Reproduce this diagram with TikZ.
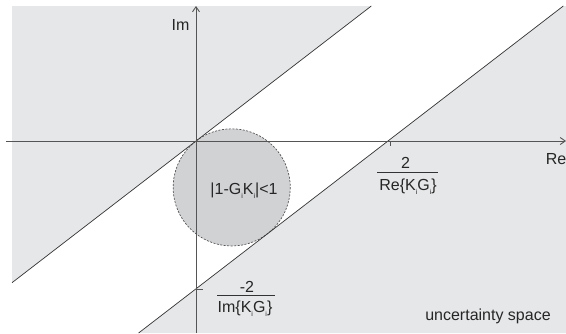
\documentclass[tikz,border=0pt]{standalone}
\usepackage{fontspec}
\setmainfont{Liberation Sans}
\usetikzlibrary{arrows.meta}
\newcommand{\sbi}{\raisebox{-0.45ex}{\fontsize{7}{7}\selectfont i}}
\definecolor{spacegray}{HTML}{E6E7E8}
\definecolor{circgray}{HTML}{D1D2D4}
\definecolor{axisgray}{HTML}{555555}
\definecolor{linegray}{HTML}{333333}
\tikzset{
  region/.style={fill=spacegray, draw=none},
  axisline/.style={draw=axisgray, line width=0.9pt, -{Straight Barb[length=5pt,width=7pt]}},
  boundline/.style={draw=linegray, line width=0.7pt},
  disc/.style={fill=circgray, draw=axisgray, line width=0.7pt, dash pattern=on 2pt off 1.5pt},
  tickmark/.style={draw=axisgray, line width=0.8pt},
  fracline/.style={draw=linegray, line width=0.8pt},
  lbl/.style={inner sep=0pt, font=\fontsize{16}{18}\selectfont, text=black!85}
}
\begin{document}
\begin{tikzpicture}[x=1pt,y=-1pt]
\useasboundingbox (0,0) rectangle (566,333);
% key points
\coordinate (O) at (196,141);
\coordinate (ul1) at (12,282.7);
\coordinate (ul2) at (371.3,6);
\coordinate (ll1) at (138.6,333);
\coordinate (ll2) at (563.3,6);
\coordinate (reint) at (388,141);
\coordinate (imint) at (196,288.8);
% gray uncertainty regions
\fill[region] (12,6) -- (ul2) -- (ul1) -- cycle;
\fill[region] (ll2) -- (566,6) -- (566,333) -- (ll1) -- cycle;
% circle
\draw[disc] (231.7,187.4) circle[radius=58.55];
% boundary lines
\draw[boundline] (ul1) -- (ul2);
\draw[boundline] (ll1) -- (ll2);
% axes
\coordinate (xs) at (6,141);
\coordinate (xe) at (566,141);
\coordinate (ys) at (196,333);
\coordinate (ye) at (196,6);
\draw[axisline] (xs) -- (xe);
\draw[axisline] (ys) -- (ye);
% ticks
\coordinate (ret) at (390,146);
\coordinate (ret0) at (390,141);
\coordinate (imt) at (203,289);
\coordinate (imt0) at (196,289);
\draw[tickmark] (ret0) -- (ret);
\draw[tickmark] (imt0) -- (imt);
% labels
\node[lbl] (imlab) at (180.5,25) {Im};
\node[lbl] (relab) at (556,159.5) {Re};
\node[lbl] (cond) at (244,190.5) {|1-G\sbi K\sbi|<1};
\node[lbl] (renum) at (405.5,163) {2};
\coordinate (rf1) at (377,172.7);
\coordinate (rf2) at (438,172.7);
\draw[fracline] (rf1) -- (rf2);
\node[lbl] (reden) at (408,186.5) {Re\{K\sbi G\sbi\}};
\node[lbl] (imnum) at (247,287) {-2};
\coordinate (if1) at (217,295.7);
\coordinate (if2) at (275,295.7);
\draw[fracline] (if1) -- (if2);
\node[lbl] (imden) at (245,308.5) {Im\{K\sbi G\sbi\}};
\node[lbl] (space) at (488,316) {uncertainty space};
\end{tikzpicture}
\end{document}
